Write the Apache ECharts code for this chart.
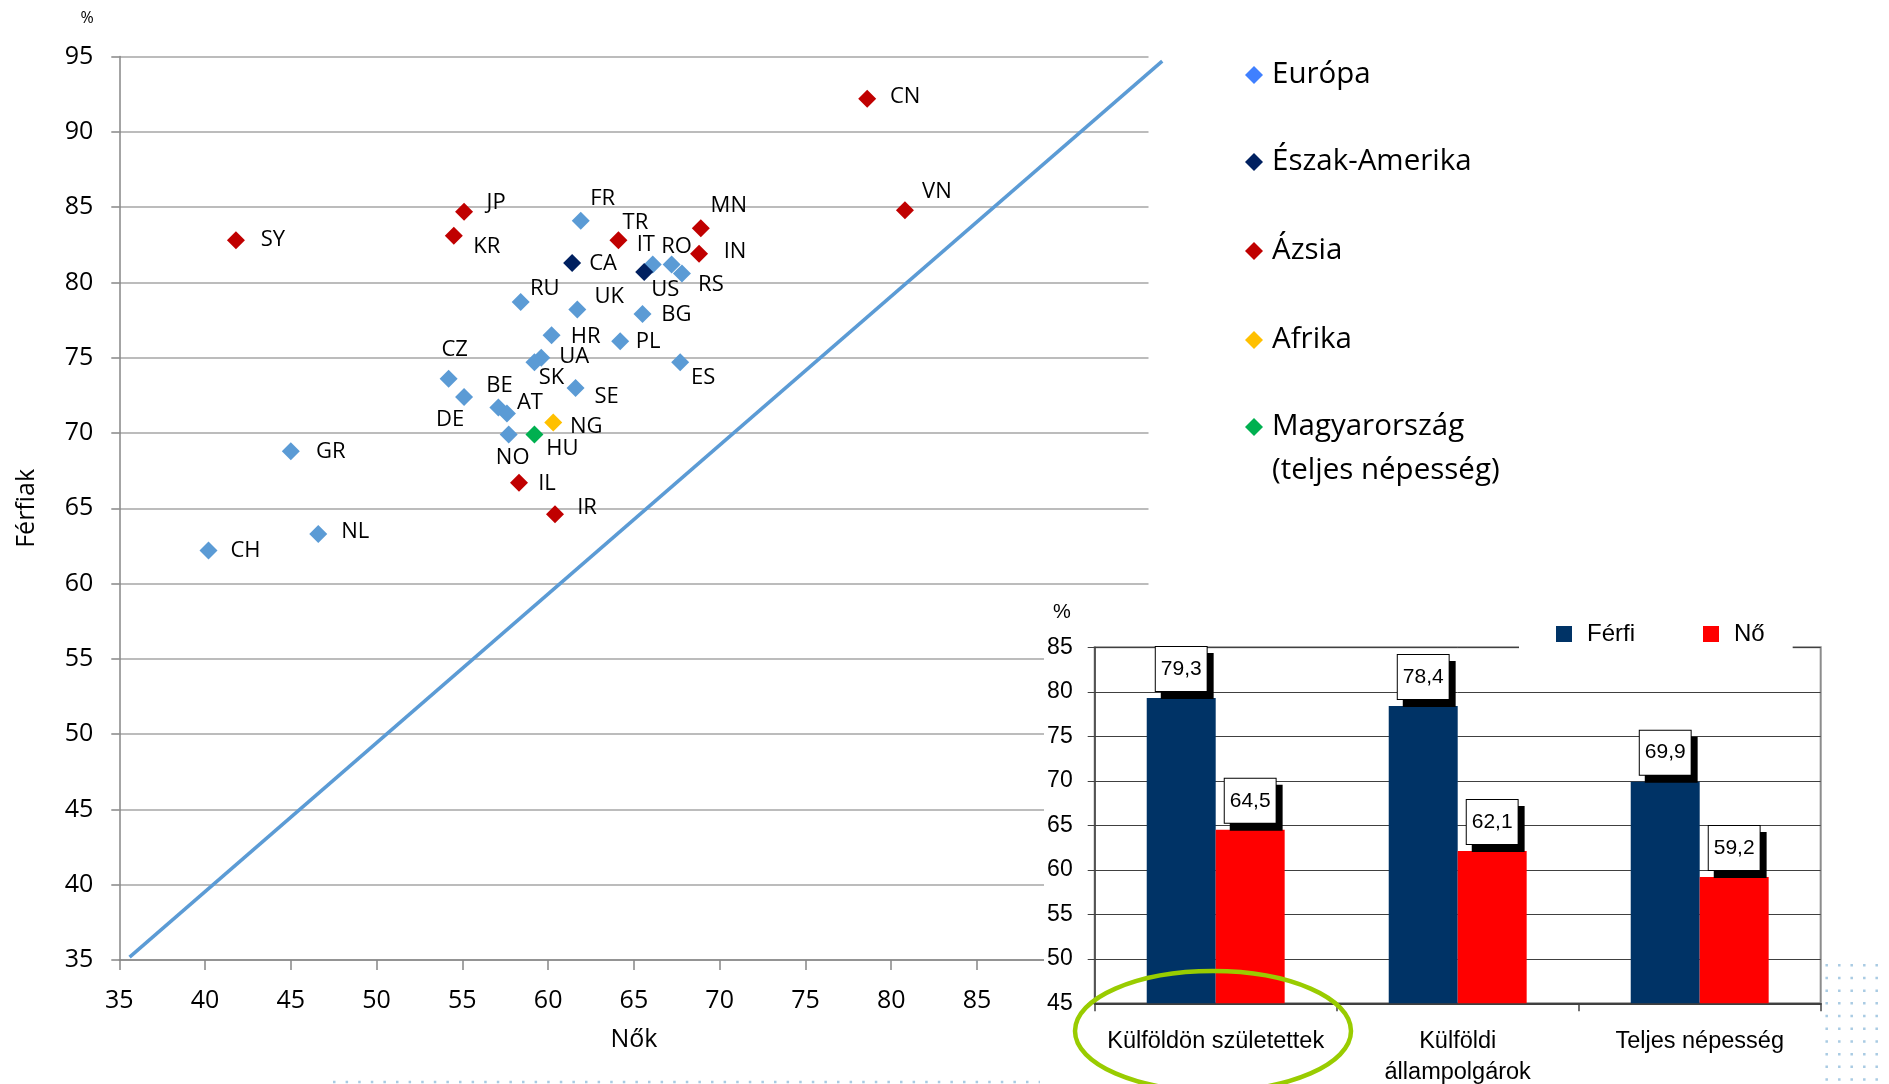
<!DOCTYPE html>
<html>
<head>
<meta charset="utf-8">
<script src="https://cdn.jsdelivr.net/npm/echarts@6/dist/echarts.min.js"></script>
<style>
html,body{margin:0;padding:0;background:#fff;}
#chart{width:1889px;height:1084px;}
</style>
</head>
<body>
<div id="chart"></div>
<script>
// ---------- Scatter data: women (Nők, x) vs men (Férfiak, y) ----------
const europeCodes = ['FR','IT','RO','RS','RU','UK','BG','HR','PL','UA','SK','ES','CZ','DE','SE','BE','AT','NO','GR','NL','CH'];
const europeWomen = [61.9, 66.1, 67.2, 67.8, 58.4, 61.7, 65.5, 60.2, 64.2, 59.6, 59.2, 67.7, 54.2, 55.1, 61.6, 57.1, 57.6, 57.7, 45.0, 46.6, 40.2];
const europeMen   = [84.1, 81.2, 81.2, 80.6, 78.7, 78.2, 77.9, 76.5, 76.1, 75.0, 74.7, 74.7, 73.6, 72.4, 73.0, 71.7, 71.3, 69.9, 68.8, 63.3, 62.2];

const northAmericaCodes = ['CA','US'];
const northAmericaWomen = [61.4, 65.6];
const northAmericaMen   = [81.3, 80.7];

const asiaCodes = ['SY','JP','KR','TR','MN','IN','CN','VN','IL','IR'];
const asiaWomen = [41.8, 55.1, 54.5, 64.1, 68.9, 68.8, 78.6, 80.8, 58.3, 60.4];
const asiaMen   = [82.8, 84.7, 83.1, 82.8, 83.6, 81.9, 92.2, 84.8, 66.7, 64.6];

const africaCodes = ['NG'];
const africaWomen = [60.3];
const africaMen   = [70.7];

const hungaryCodes = ['HU'];
const hungaryWomen = [59.2];
const hungaryMen   = [69.9];

// equality reference line (end points)
const diagWomen = [35.6, 95.8];
const diagMen   = [35.2, 94.7];

// scatter axis range
const scatterMin = 35, scatterMax = 95, scatterStep = 5;

// ---------- Inset bar chart data ----------
const barCategories = ['Külföldön születettek', 'Külföldi\nállampolgárok', 'Teljes népesség'];
const barMen   = [79.3, 78.4, 69.9];
const barWomen = [64.5, 62.1, 59.2];
const barMin = 45, barMax = 85, barStep = 5;

// ---------- label placement (pixel offsets from marker centre) ----------
const labelOffset = {
  SY:[37,-1], JP:[32,-9], KR:[33,11], FR:[22,-22], TR:[17,-18], CA:[31,1], IT:[-7,-20], RO:[5,-18],
  US:[21,18], RS:[29,11], MN:[28,-23], IN:[36,-2], CN:[38,-2], VN:[32,-18], RU:[24,-13], UK:[32,-13],
  BG:[34,1], HR:[34,2], PL:[28,1], UA:[33,-1], SK:[17,15], ES:[23,15], CZ:[6,-29], DE:[-14,23],
  SE:[31,9], BE:[1,-22], AT:[23,-11], NG:[33,4], NO:[4,23], HU:[28,14], IL:[28,1], IR:[32,-7],
  GR:[40,1], NL:[37,-2], CH:[37,0]
};

const SANS = 'Open Sans';
const ARIAL = 'Liberation Sans';

// plot geometry of the scatter panel
const SC_LEFT = 119.3, SC_TOP = 56.6, SC_W = 1029.2, SC_H = 903.5;

function scatterSeries(name, codes, women, men, color) {
  return {
    type: 'scatter', name: name, xAxisIndex: 0, yAxisIndex: 0,
    symbol: 'diamond', symbolSize: 18, z: 2,
    itemStyle: { color: color, opacity: 1 },
    emphasis: { disabled: true },
    label: { show: true, position: 'inside', formatter: '{b}', color: '#000', fontFamily: SANS, fontSize: 22 },
    data: codes.map((c, i) => ({ name: c, value: [women[i], men[i]], label: { offset: labelOffset[c] } }))
  };
}

const chart = echarts.init(document.getElementById('chart'));

const scatterLegendCommon = {
  orient: 'horizontal', left: 1245, padding: 0, itemWidth: 18, itemHeight: 18, itemGap: 0,
  icon: 'diamond', selectedMode: false,
  itemStyle: { opacity: 1 },
  textStyle: { fontFamily: SANS, fontSize: 29.5, color: '#000', lineHeight: 44, padding: [0, 0, 0, 4] }
};

const barLabel = {
  show: true, position: 'top', distance: 7,
  formatter: p => p.value.toFixed(1).replace('.', ','),
  fontFamily: ARIAL, fontSize: 21, color: '#000', lineHeight: 24,
  backgroundColor: '#fff', borderColor: '#000', borderWidth: 1,
  padding: [10, 5],
  shadowColor: '#000', shadowBlur: 0, shadowOffsetX: 6, shadowOffsetY: 7
};

const option = {
  animation: false,
  backgroundColor: '#fff',
  grid: [
    { left: SC_LEFT, top: SC_TOP, width: SC_W, height: SC_H, show: false, outerBoundsMode: 'none' },
    { left: 1094.7, top: 647.3, width: 726, height: 356, show: true, z: 6, outerBoundsMode: 'none',
      backgroundColor: 'transparent', borderColor: '#8C8C8C', borderWidth: 2 },
    // hidden helper grid with the same scale as the scatter panel but one unit wider,
    // so the equality line can run just past the x-axis end as in the original
    { left: SC_LEFT, top: SC_TOP, width: SC_W * (scatterMax + 1 - scatterMin) / (scatterMax - scatterMin), height: SC_H,
      show: false, outerBoundsMode: 'none' }
  ],
  xAxis: [
    { type: 'value', gridIndex: 0, min: scatterMin, max: scatterMax, interval: scatterStep,
      name: 'Nők', nameLocation: 'middle', nameGap: 67,
      nameTextStyle: { fontFamily: SANS, fontSize: 25, color: '#000' },
      axisLine: { show: true, onZero: false, lineStyle: { color: '#868686', width: 1.5 } },
      axisTick: { show: true, length: 10, lineStyle: { color: '#868686', width: 1.5 } },
      axisLabel: { fontFamily: SANS, fontSize: 25, color: '#000', margin: 28,
        formatter: v => (v <= 85 ? String(v) : '') },
      splitLine: { show: false } },
    { type: 'category', gridIndex: 1, data: barCategories, z: 6,
      axisLine: { show: true, lineStyle: { color: '#404040', width: 2 } },
      axisTick: { show: true, length: 8, lineStyle: { color: '#404040', width: 1.5 } },
      axisLabel: { fontFamily: ARIAL, fontSize: 23.5, color: '#000', margin: 23, lineHeight: 31, interval: 0 },
      splitLine: { show: false } },
    { type: 'value', gridIndex: 2, min: scatterMin, max: scatterMax + 1, show: false }
  ],
  yAxis: [
    { type: 'value', gridIndex: 0, min: scatterMin, max: scatterMax, interval: scatterStep,
      name: 'Férfiak', nameLocation: 'middle', nameRotate: 90, nameGap: 80,
      nameTextStyle: { fontFamily: SANS, fontSize: 25, color: '#000' },
      axisLine: { show: true, onZero: false, lineStyle: { color: '#868686', width: 1.5 } },
      axisTick: { show: true, length: 8, lineStyle: { color: '#868686', width: 1.5 } },
      axisLabel: { fontFamily: SANS, fontSize: 25, color: '#000', margin: 26 },
      splitLine: { show: true, lineStyle: { color: '#A6A6A6', width: 1.5 } } },
    { type: 'value', gridIndex: 1, min: barMin, max: barMax, interval: barStep, z: 6,
      name: '%', nameLocation: 'end', nameGap: 25,
      nameTextStyle: { fontFamily: ARIAL, fontSize: 20, color: '#000', align: 'right', padding: [0, 24, 0, 0] },
      axisLine: { show: true, lineStyle: { color: '#404040', width: 1.5 } },
      axisTick: { show: true, length: 7, lineStyle: { color: '#404040', width: 1 } },
      axisLabel: { fontFamily: ARIAL, fontSize: 23, color: '#000', margin: 22 },
      splitLine: { show: true, lineStyle: { color: '#404040', width: 1 } } },
    { type: 'value', gridIndex: 2, min: scatterMin, max: scatterMax, show: false }
  ],
  legend: [
    Object.assign({}, scatterLegendCommon, { top: 53, data: [{ name: 'Európa', itemStyle: { color: '#4080FF' } }] }),
    Object.assign({}, scatterLegendCommon, { top: 140, data: ['Észak-Amerika'] }),
    Object.assign({}, scatterLegendCommon, { top: 229, data: ['Ázsia'] }),
    Object.assign({}, scatterLegendCommon, { top: 318, data: ['Afrika'] }),
    Object.assign({}, scatterLegendCommon, { top: 361, data: ['Magyarország'],
      formatter: () => '\u00A0\nMagyarország\n(teljes népesség)' }),
    { data: ['Férfi', 'Nő'], left: 1519, top: 610, orient: 'horizontal', z: 8,
      backgroundColor: '#fff', padding: [12, 28, 12, 37], itemGap: 68, itemWidth: 16, itemHeight: 16,
      icon: 'rect', selectedMode: false,
      textStyle: { fontFamily: ARIAL, fontSize: 24, color: '#000', padding: [0, 0, 0, 10] } }
  ],
  series: [
    { type: 'line', name: 'egyenlőség', xAxisIndex: 2, yAxisIndex: 2, z: 1, silent: true, clip: false,
      symbol: 'none', lineStyle: { color: '#5B9BD5', width: 3.5 },
      data: diagWomen.map((x, i) => [x, diagMen[i]]) },
    scatterSeries('Európa', europeCodes, europeWomen, europeMen, '#5B9BD5'),
    scatterSeries('Észak-Amerika', northAmericaCodes, northAmericaWomen, northAmericaMen, '#002060'),
    scatterSeries('Ázsia', asiaCodes, asiaWomen, asiaMen, '#C00000'),
    scatterSeries('Afrika', africaCodes, africaWomen, africaMen, '#FFC000'),
    scatterSeries('Magyarország', hungaryCodes, hungaryWomen, hungaryMen, '#00B050'),
    { type: 'bar', name: 'Férfi', xAxisIndex: 1, yAxisIndex: 1, z: 7, data: barMen,
      barWidth: '28.5%', barGap: '0%', itemStyle: { color: '#003366', opacity: 1 }, label: barLabel,
      emphasis: { disabled: true } },
    { type: 'bar', name: 'Nő', xAxisIndex: 1, yAxisIndex: 1, z: 7, data: barWomen,
      barWidth: '28.5%', barGap: '0%', itemStyle: { color: '#FF0000', opacity: 1 }, label: barLabel,
      emphasis: { disabled: true } }
  ],
  graphic: [
    { type: 'rect', z: 5, silent: true, shape: { x: 1044, y: 595, width: 778, height: 489 }, style: { fill: '#fff' } },
    { type: 'text', z: 5, x: 87, y: 18, silent: true,
      style: { text: '%', fill: '#000', font: '16px "Open Sans"', align: 'center', verticalAlign: 'middle' } },
    { type: 'ellipse', z: 9, silent: true, shape: { cx: 1213, cy: 1031, rx: 138, ry: 60 },
      style: { fill: 'none', stroke: '#99CC00', lineWidth: 4.5 } },
    { type: 'line', z: 1, silent: true, shape: { x1: 333, y1: 1082, x2: 1040, y2: 1082 },
      style: { stroke: '#A9CBE3', lineWidth: 2.5, lineDash: [2.5, 10.1] } },
    { type: 'line', z: 1, silent: true, shape: { x1: 1826.7, y1: 964, x2: 1826.7, y2: 1084 },
      style: { stroke: '#A9CBE3', lineWidth: 2.5, lineDash: [2.5, 10.2] } },
    { type: 'line', z: 1, silent: true, shape: { x1: 1839.3, y1: 964, x2: 1839.3, y2: 1084 },
      style: { stroke: '#A9CBE3', lineWidth: 2.5, lineDash: [2.5, 10.2] } },
    { type: 'line', z: 1, silent: true, shape: { x1: 1851.7, y1: 964, x2: 1851.7, y2: 1084 },
      style: { stroke: '#A9CBE3', lineWidth: 2.5, lineDash: [2.5, 10.2] } },
    { type: 'line', z: 1, silent: true, shape: { x1: 1864.3, y1: 964, x2: 1864.3, y2: 1084 },
      style: { stroke: '#A9CBE3', lineWidth: 2.5, lineDash: [2.5, 10.2] } },
    { type: 'line', z: 1, silent: true, shape: { x1: 1876.7, y1: 964, x2: 1876.7, y2: 1084 },
      style: { stroke: '#A9CBE3', lineWidth: 2.5, lineDash: [2.5, 10.2] } }
  ]
};

chart.setOption(option);
</script>
</body>
</html>
